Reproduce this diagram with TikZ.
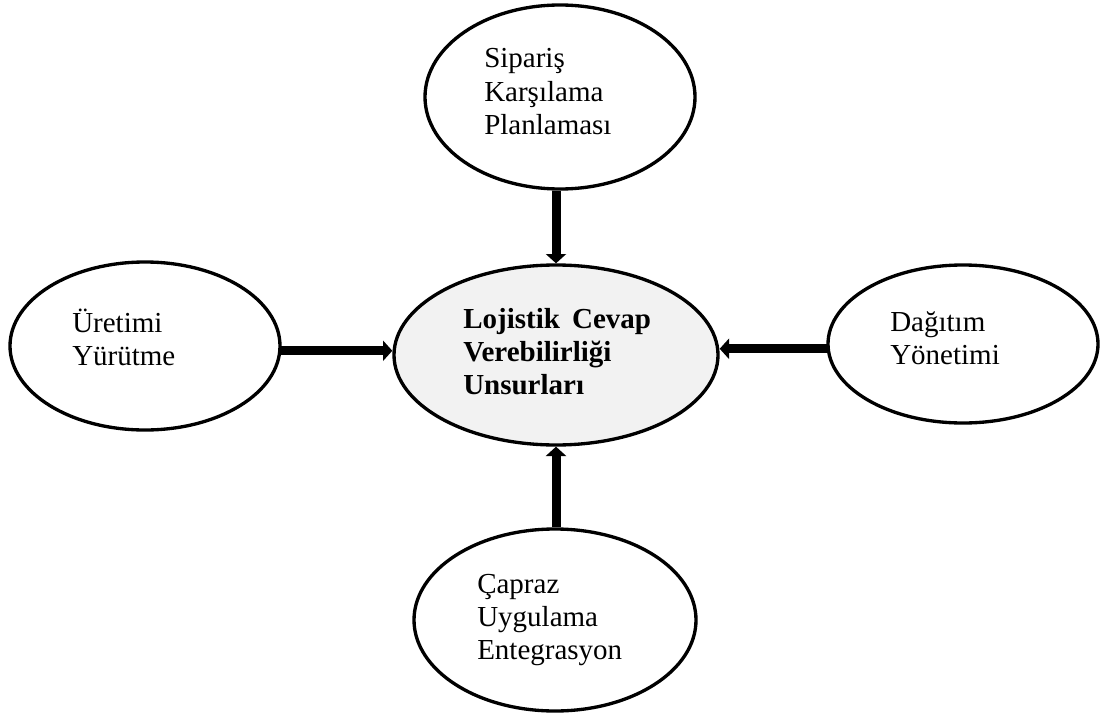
\documentclass[tikz,border=0pt]{standalone}
\usepackage{fontspec}
\setmainfont{Liberation Serif}
\usetikzlibrary{arrows.meta,shapes.geometric}
\definecolor{hubgray}{HTML}{F2F2F2}
\tikzset{
  bubble/.style={ellipse, draw=black, line width=2.5pt, fill=white, inner sep=0pt},
  hub/.style={bubble, fill=hubgray},
  txt/.style={anchor=base west, inner sep=0pt, font=\fontsize{21.75pt}{24.75pt}\selectfont},
  boldtxt/.style={txt, font=\fontsize{21.75pt}{24.75pt}\selectfont\bfseries},
  feed/.style={line width=6.75pt, -{Triangle[width=15pt,length=7pt]}}
}
\begin{document}
\begin{tikzpicture}[x=0.75pt, y=-0.75pt]
  \useasboundingbox (0,0) rectangle (1106,717);

  % ellipses
  \node[hub,    minimum width=243pt,   minimum height=135pt]   (ctr) at (556,355) {};
  \node[bubble, minimum width=202.5pt, minimum height=138pt]   (top) at (560,97)  {};
  \node[bubble, minimum width=202.5pt, minimum height=126pt]   (lft) at (145,346) {};
  \node[bubble, minimum width=202.5pt, minimum height=118.5pt] (rgt) at (963,344) {};
  \node[bubble, minimum width=211.5pt, minimum height=136.5pt] (bot) at (555,620) {};

  % centre text
  \node[boldtxt] (c1) at (463,328) {Lojistik\hspace{0.42em}Cevap};
  \node[boldtxt] (c2) at (463,361) {Verebilirliği};
  \node[boldtxt] (c3) at (463,394) {Unsurları};

  % top text
  \node[txt] (t1) at (484,68)  {Sipariş};
  \node[txt] (t2) at (484,101) {Karşılama};
  \node[txt] (t3) at (484,134) {Planlaması};

  % left text
  \node[txt] (l1) at (72,332) {Üretimi};
  \node[txt] (l2) at (72,365) {Yürütme};

  % right text
  \node[txt] (r1) at (890,331) {Dağıtım};
  \node[txt] (r2) at (890,364) {Yönetimi};

  % bottom text
  \node[txt] (b1) at (477,593) {Çapraz};
  \node[txt] (b2) at (477,626) {Uygulama};
  \node[txt] (b3) at (477,659) {Entegrasyon};

  % connectors
  \draw[feed] (ctr.north |- top.south) -- (ctr.north);
  \draw[feed] (lft.-2.5) -- (lft.-2.5 -| ctr.west);
  \draw[feed] (rgt.182.5) -- (rgt.182.5 -| ctr.east);
  \draw[feed] (ctr.south |- bot.north) -- (ctr.south);
\end{tikzpicture}
\end{document}
